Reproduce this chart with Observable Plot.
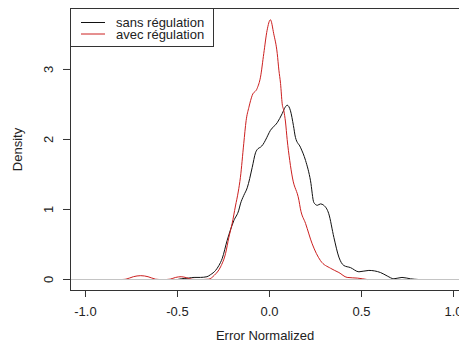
<!DOCTYPE html>
<html>
<head>
<meta charset="utf-8">
<script src="https://cdn.jsdelivr.net/npm/d3@7"></script>
<script src="https://cdn.jsdelivr.net/npm/@observablehq/plot@0.6"></script>
<style>
  html, body { margin: 0; padding: 0; background: #fff; }
  #wrap { position: relative; width: 459px; height: 343px; font-family: "Liberation Sans", Arial, sans-serif; }
  #legend { position: absolute; left: 70px; top: 8px; }
</style>
</head>
<body>
<div id="wrap"></div>
<script>
// Series: density of normalized error
const sansX = [-0.50, -0.48, -0.44, -0.41, -0.375, -0.34, -0.32, -0.293, -0.275, -0.257, -0.23, -0.194, -0.167, -0.158, -0.14, -0.121, -0.094, -0.076, -0.062, -0.049, -0.035, -0.022, 0.005, 0.042, 0.069, 0.085, 0.096, 0.105, 0.114, 0.13, 0.141, 0.168, 0.196, 0.223, 0.241, 0.26, 0.277, 0.295, 0.322, 0.35, 0.377, 0.404, 0.44, 0.486, 0.54, 0.603, 0.64, 0.676, 0.72, 0.766, 0.81];
const sansY = [0, 0.01, 0.02, 0.03, 0.03, 0.04, 0.07, 0.13, 0.2, 0.3, 0.56, 0.84, 0.99, 1.08, 1.2, 1.31, 1.6, 1.81, 1.87, 1.89, 1.93, 1.99, 2.13, 2.24, 2.37, 2.46, 2.49, 2.47, 2.41, 2.2, 2.03, 1.89, 1.7, 1.41, 1.1, 1.06, 1.08, 1.06, 0.94, 0.6, 0.32, 0.2, 0.17, 0.11, 0.13, 0.1, 0.05, 0.01, 0.03, 0.01, 0];
const avecX = [-0.80, -0.78, -0.74, -0.70, -0.66, -0.62, -0.60, -0.56, -0.54, -0.51, -0.48, -0.45, -0.42, -0.40, -0.36, -0.33, -0.30, -0.266, -0.239, -0.221, -0.203, -0.185, -0.17, -0.158, -0.14, -0.127, -0.112, -0.094, -0.067, -0.049, -0.031, -0.013, 0.005, 0.023, 0.042, 0.051, 0.06, 0.069, 0.078, 0.087, 0.096, 0.11, 0.125, 0.16, 0.168, 0.196, 0.232, 0.277, 0.332, 0.377, 0.422, 0.477, 0.53];
const avecY = [0, 0.005, 0.04, 0.055, 0.04, 0.005, 0, 0, 0.005, 0.03, 0.04, 0.025, 0.003, 0, 0, 0.005, 0.06, 0.18, 0.37, 0.6, 0.8, 1.05, 1.25, 1.46, 1.94, 2.27, 2.46, 2.63, 2.73, 2.89, 3.23, 3.56, 3.71, 3.51, 3.23, 2.99, 2.8, 2.51, 2.41, 2.25, 2.0, 1.7, 1.45, 1.13, 1.01, 0.8, 0.51, 0.27, 0.16, 0.1, 0.03, 0.02, 0];

const seriesNames = ["sans régulation", "avec régulation"];
const seriesColors = ["#111111", "#cc2020"];
const xTicks = [-1.0, -0.5, 0.0, 0.5, 1.0];
const yTicks = [0, 1, 2, 3];
const xLabel = "Error Normalized";
const yLabel = "Density";

const sans = sansX.map((x, i) => ({x, y: sansY[i]}));
const avec = avecX.map((x, i) => ({x, y: avecY[i]}));

const xDomain = [-1.0815, 1.0326];
const yDomain = [-0.157, 3.871];

const chart = Plot.plot({
  width: 459,
  height: 343,
  marginLeft: 70,
  marginRight: 0,
  marginTop: 8,
  marginBottom: 53,
  style: {fontFamily: "'Liberation Sans', Arial, sans-serif", fontSize: "13px", color: "#222", background: "#fff", overflow: "visible"},
  x: {domain: xDomain},
  y: {domain: yDomain},
  marks: [
    Plot.line(sans, {x: "x", y: "y", stroke: seriesColors[0], strokeWidth: 1, curve: "monotone-x"}),
    Plot.line(avec, {x: "x", y: "y", stroke: seriesColors[1], strokeWidth: 1, curve: "monotone-x"}),
    Plot.ruleY([0], {stroke: "#c4c4c4", strokeWidth: 1}),
    // frame: left, top, bottom
    Plot.ruleX([xDomain[0]], {stroke: "#333", strokeWidth: 1}),
    Plot.ruleY([yDomain[1]], {stroke: "#333", strokeWidth: 1}),
    Plot.ruleY([yDomain[0]], {stroke: "#333", strokeWidth: 1}),
    Plot.axisX({ticks: xTicks, tickSize: 7, tickPadding: 9, tickFormat: d => d.toFixed(1), label: null, stroke: "#333", fill: "#222", fontSize: 13}),
    Plot.axisY({ticks: yTicks, tickSize: 7, tickFormat: () => "", label: null, stroke: "#333"}),
    Plot.text(yTicks, {y: d => d, text: d => String(d), frameAnchor: "left", dx: -21.5, rotate: -90, textAnchor: "middle", lineAnchor: "middle", fill: "#222", fontSize: 13}),
    Plot.text([xLabel], {frameAnchor: "bottom", dy: 45, text: d => d, textAnchor: "middle", lineAnchor: "middle", fill: "#222", fontSize: 13}),
    Plot.text([yLabel], {frameAnchor: "left", dx: -52.5, rotate: -90, text: d => d, textAnchor: "middle", lineAnchor: "middle", fill: "#222", fontSize: 13})
  ]
});

const wrap = document.getElementById("wrap");
wrap.appendChild(chart);

// Legend overlay
const ns = "http://www.w3.org/2000/svg";
const lg = document.createElementNS(ns, "svg");
lg.setAttribute("id", "legend");
lg.setAttribute("width", 144);
lg.setAttribute("height", 39);
const box = document.createElementNS(ns, "rect");
box.setAttribute("x", 0.5); box.setAttribute("y", 0.5);
box.setAttribute("width", 143); box.setAttribute("height", 38);
box.setAttribute("fill", "#fff"); box.setAttribute("stroke", "#333");
lg.appendChild(box);
seriesNames.forEach((name, i) => {
  const yy = 14.5 + i * 11.5;
  const ln = document.createElementNS(ns, "line");
  ln.setAttribute("x1", 11); ln.setAttribute("x2", 35);
  ln.setAttribute("y1", yy); ln.setAttribute("y2", yy);
  ln.setAttribute("stroke", seriesColors[i]); ln.setAttribute("stroke-width", 1);
  lg.appendChild(ln);
  const t = document.createElementNS(ns, "text");
  t.setAttribute("x", 46); t.setAttribute("y", yy);
  t.setAttribute("dy", "0.35em");
  t.setAttribute("font-family", "'Liberation Sans', Arial, sans-serif");
  t.setAttribute("font-size", 13);
  t.setAttribute("fill", "#222");
  t.textContent = name;
  lg.appendChild(t);
});
wrap.appendChild(lg);
</script>
</body>
</html>
